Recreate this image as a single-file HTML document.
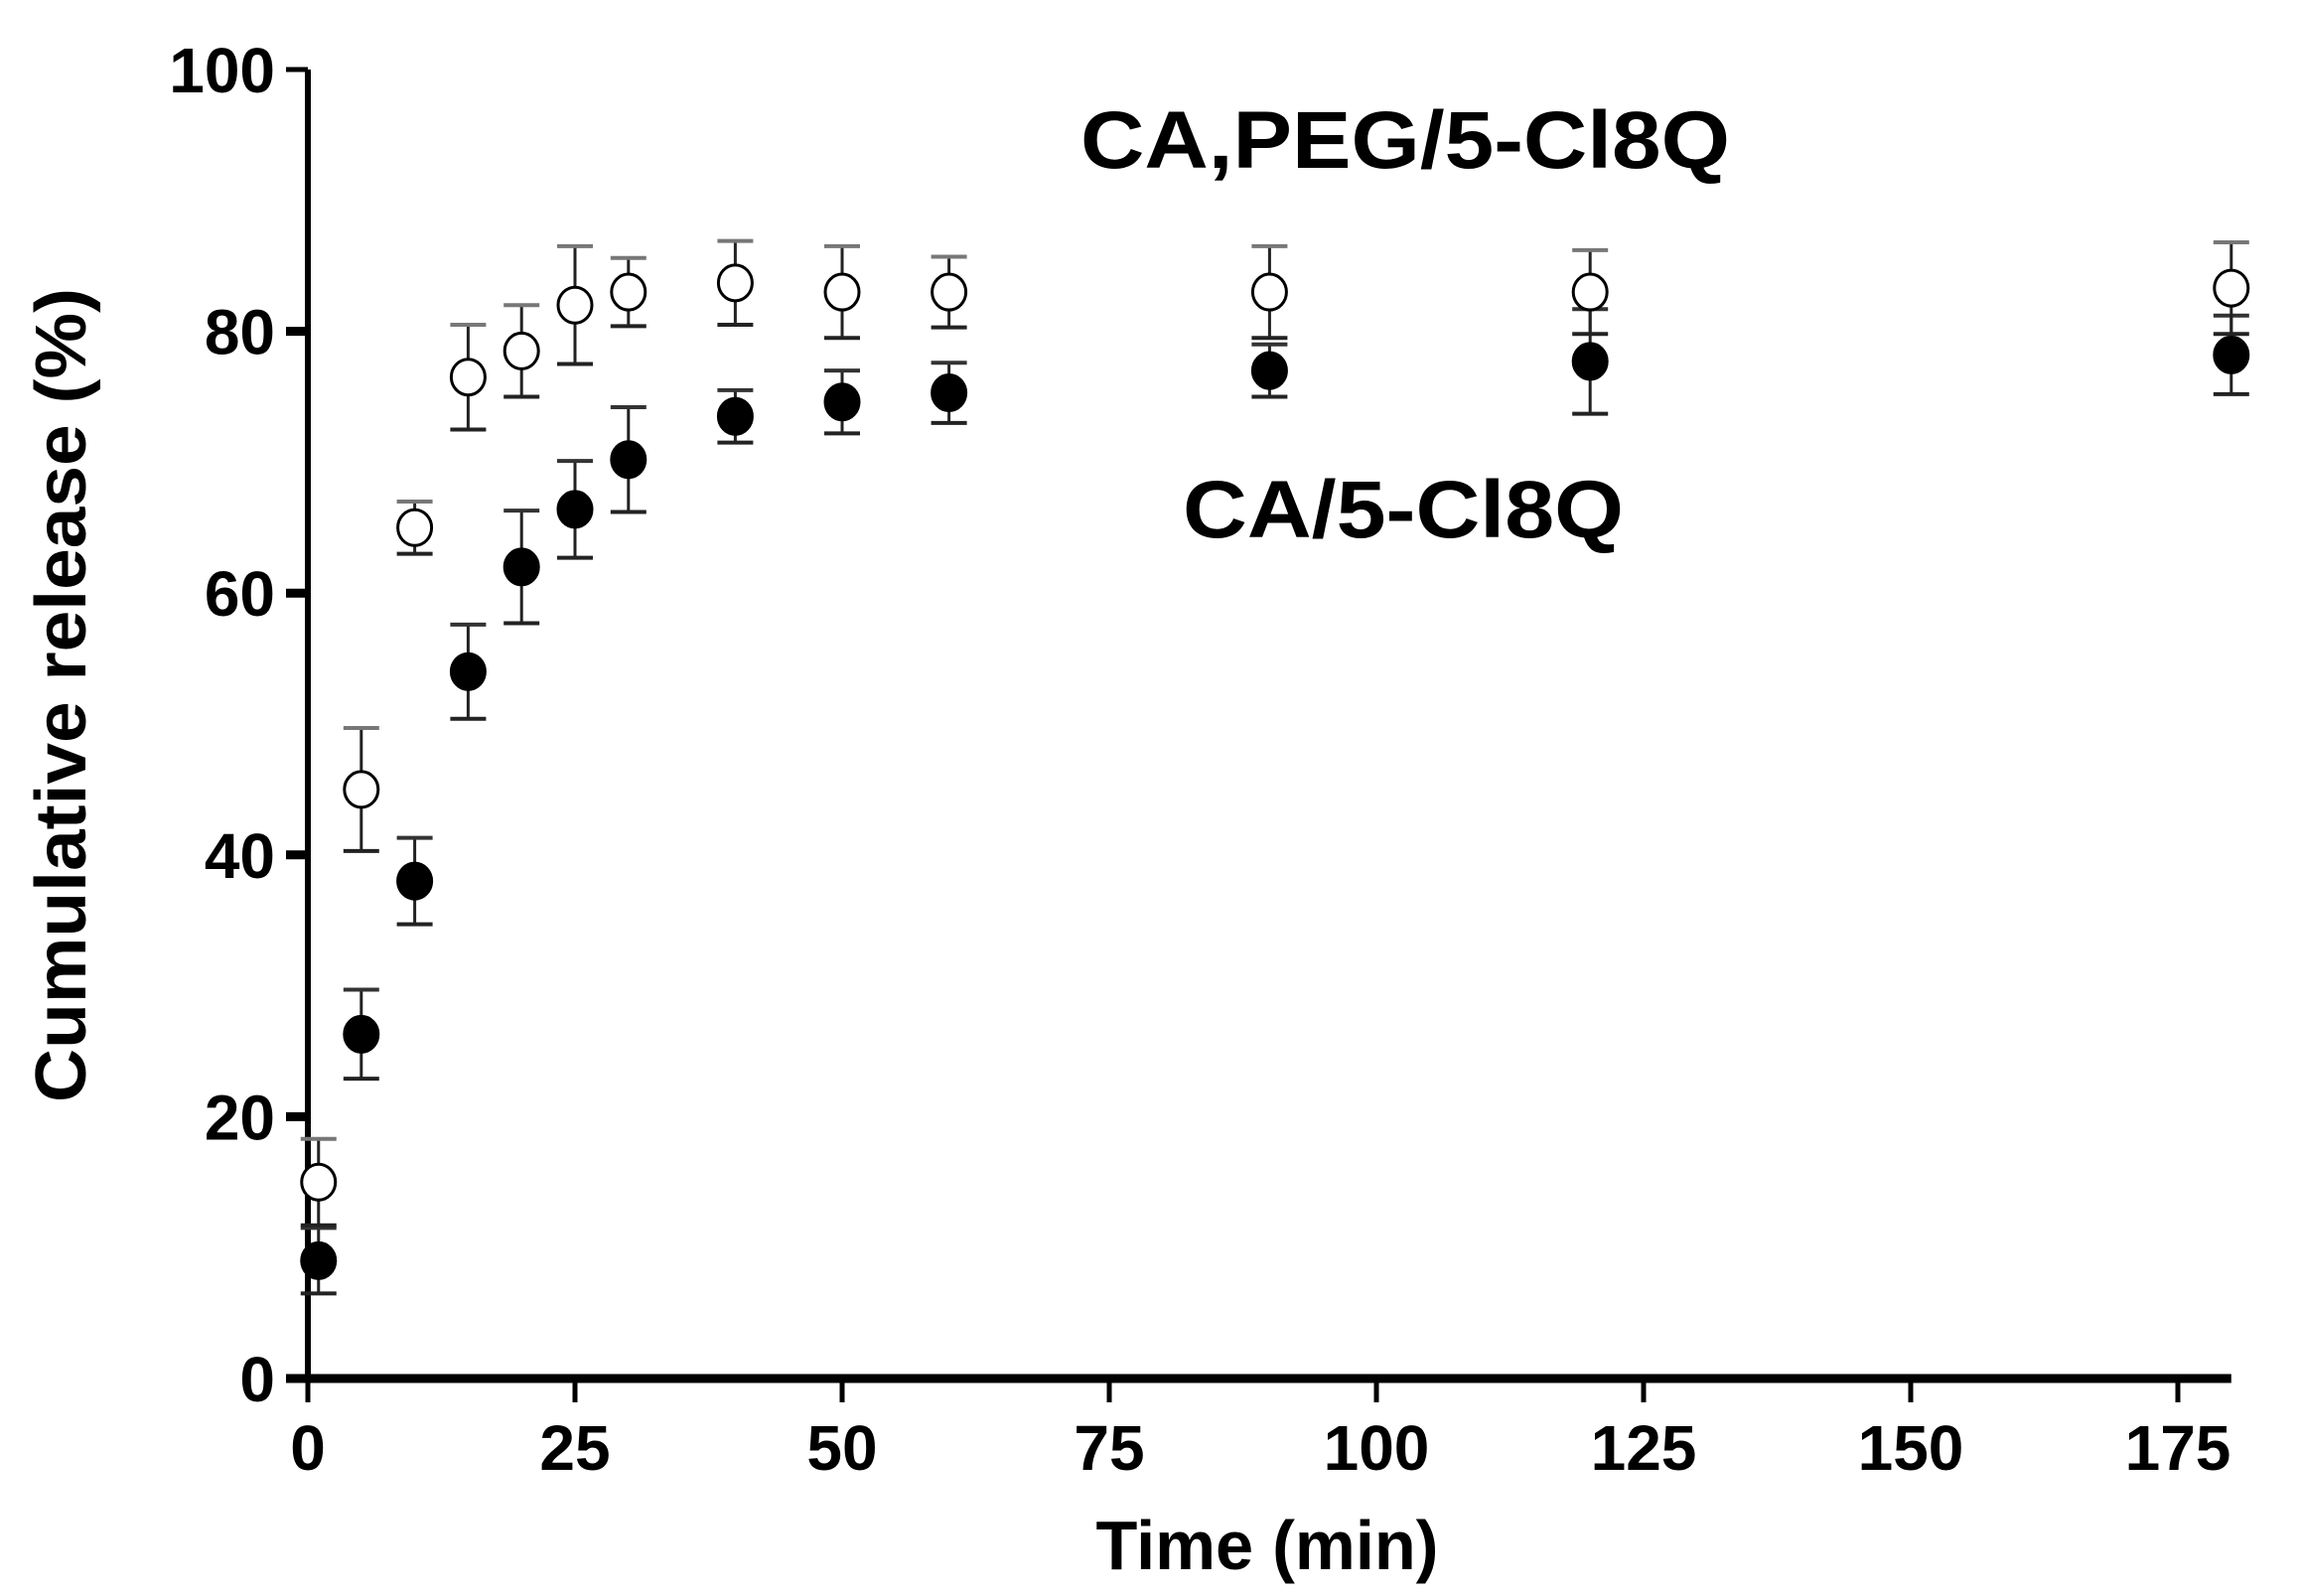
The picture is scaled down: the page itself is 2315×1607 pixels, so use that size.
<!DOCTYPE html>
<html><head><meta charset="utf-8"><style>
html,body{margin:0;padding:0;background:#fff;}
svg{display:block;font-family:"Liberation Sans",Arial,sans-serif;font-weight:bold;}
</style></head><body>
<svg id="chart" width="2315" height="1607" viewBox="0 0 2315 1607" xmlns="http://www.w3.org/2000/svg">
<g id="axes"></g><g id="marks"></g>
<text x="0" y="0" transform="translate(86,700) rotate(-90)" text-anchor="middle" font-size="72" textLength="820" lengthAdjust="spacingAndGlyphs">Cumulative release (%)</text>
<text x="1276" y="1580" text-anchor="middle" font-size="70" textLength="345" lengthAdjust="spacingAndGlyphs">Time (min)</text>
<text x="1088" y="169" font-size="82" textLength="654" lengthAdjust="spacingAndGlyphs">CA,PEG/5-Cl8Q</text>
<text x="1191" y="541" font-size="82" textLength="444" lengthAdjust="spacingAndGlyphs">CA/5-Cl8Q</text>
</svg>
<script>
const times = [1,5,10,15,20,25,30,40,50,60,90,120,180];
const pegValues = [15,45,65,76.5,78.5,82,83,83.7,83,83,83,83,83.3];
const pegErrors = [3.3,4.7,2,4,3.5,4.5,2.6,3.2,3.5,2.7,3.5,3.2,3.5];
const caValues = [9,26.3,38,54,62,66.4,70.2,73.5,74.6,75.3,77,77.7,78.2];
const caErrors = [2.5,3.4,3.3,3.6,4.3,3.7,4,2,2.4,2.3,2,4,3];
const xTicks = [0,25,50,75,100,125,150,175];
const yTicks = [0,20,40,60,80,100];

const NS="http://www.w3.org/2000/svg";
const X0=310,X1=2193,Y0=1388,Y100=70;
const sx=v=>X0+(X1-X0)*v/175;
const sy=v=>Y0+(Y100-Y0)*v/100;
function mk(tag,attrs,parent){const e=document.createElementNS(NS,tag);for(const k in attrs)e.setAttribute(k,attrs[k]);parent.appendChild(e);return e;}
const axes=document.getElementById('axes'),marks=document.getElementById('marks');

let yl=mk('line',{x1:X0,y1:sy(100),x2:X0,y2:Y0,stroke:'#000','stroke-width':6},axes);


let xl=mk('line',{x1:X0-22,y1:Y0,x2:sx(180),y2:Y0,stroke:'#000','stroke-width':9},axes);


yTicks.forEach(v=>{
  let t=mk('line',{x1:X0-22,y1:sy(v),x2:X0,y2:sy(v),stroke:'#000','stroke-width':v===100?5:9},axes);
  
  
  let l=mk('text',{x:277,y:sy(v)+23,'text-anchor':'end','font-size':64},axes);
  l.textContent=v;
  
  
});
xTicks.forEach(v=>{
  let t=mk('line',{x1:sx(v),y1:Y0,x2:sx(v),y2:Y0+24,stroke:'#000','stroke-width':5},axes);
  
  
  let l=mk('text',{x:sx(v),y:1480,'text-anchor':'middle','font-size':64},axes);
  l.textContent=v;
  
  
});
function series(vals,errs,filled,name){
  times.forEach((t,i)=>{
    const cx=sx(t),cy=sy(vals[i]),top=sy(vals[i]+errs[i]),bot=sy(vals[i]-errs[i]);
    const g=mk('g',{},marks);
    
    
    mk('line',{x1:cx,y1:top,x2:cx,y2:bot,stroke:'#222','stroke-width':3},g);
    mk('line',{x1:cx-18,y1:top,x2:cx+18,y2:top,stroke:filled?'#333':'#777','stroke-width':4},g);
    mk('line',{x1:cx-18,y1:bot,x2:cx+18,y2:bot,stroke:'#222','stroke-width':4},g);
    mk('ellipse',{cx:cx,cy:cy,rx:17,ry:18,fill:filled?'#000':'#fff',stroke:'#000','stroke-width':3},g);
  });
}
series(caValues,caErrors,true,'ca');
series(pegValues,pegErrors,false,'ca-peg');
</script>
</body></html>
